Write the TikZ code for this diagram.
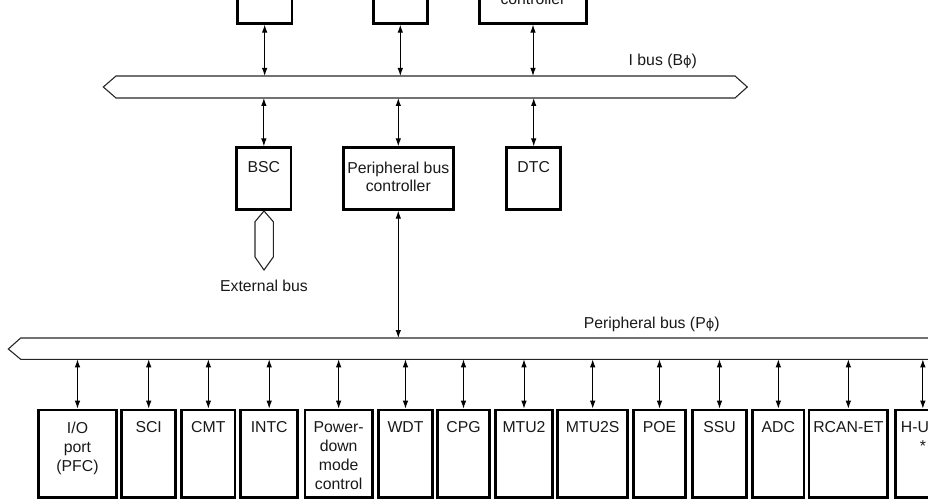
\documentclass[tikz,border=0pt]{standalone}
\usepackage{fontspec}
\setmainfont{Liberation Sans}
\newfontfamily\greekfont{DejaVu Sans}
\usetikzlibrary{arrows.meta,fit}

\newcommand\phisym{{\greekfont\fontsize{13}{13}\selectfont ϕ}}

\tikzset{
  blk/.style={draw=black, line width=2.6pt, inner sep=0pt},
  busline/.style={draw=black!85, line width=1.1pt, line join=miter},
  link/.style={draw=black, line width=1pt,
    {Latex[length=8pt,width=5.5pt]}-{Latex[length=8pt,width=5.5pt]}},
  txt/.style={inner sep=0pt, align=center,
    font=\fontsize{15.8}{19}\selectfont, text=black!90},
}

\begin{document}
\begin{tikzpicture}[x=1pt,y=-1pt]
\useasboundingbox (0,0) rectangle (928,500);

% ---- upper modules on the I bus ----
\node[blk, fit={(237.3,-60) (292,23.3)}] (t1) {};
\node[blk, fit={(373.3,-60) (427.3,23.3)}] (t2) {};
\node[blk, fit={(479.3,-60) (586.7,23.3)}] (t3) {};
\node[txt, anchor=base] (t3txt) at (533,4.5) {controller};

% ---- I bus ----
\draw[busline] (103.3,87) -- (116,76) -- (735,76) -- (747.3,87)
  -- (735,98) -- (116,98) -- cycle;
\coordinate (ibt) at (0,76);
\coordinate (ibb) at (0,98);
\node[txt] (iblabel) at (662.8,61.5) {I bus (B\phisym)};

\draw[link] (t1.south) -- (t1.south |- ibt);
\draw[link] (t2.south) -- (t2.south |- ibt);
\draw[link] (t3.south) -- (t3.south |- ibt);

% ---- BSC, peripheral bus controller, DTC ----
\node[blk, fit={(236.7,147.7) (291,209.3)}] (bsc) {};
\node[blk, fit={(343.3,147.7) (453.3,209.3)}] (pbc) {};
\node[blk, fit={(506.7,147.7) (560.7,209.3)}] (dtc) {};
\node[txt, anchor=north] (bsctxt) at ([yshift=-15pt]bsc.north) {BSC};
\node[txt, anchor=north, font=\fontsize{15.8}{18.5}\selectfont] (pbctxt)
  at ([yshift=-15pt]pbc.north) {Peripheral bus\\controller};
\node[txt, anchor=north] (dtctxt) at ([yshift=-15pt]dtc.north) {DTC};

\draw[link] (bsc.north) -- (bsc.north |- ibb);
\draw[link] (pbc.north) -- (pbc.north |- ibb);
\draw[link] (dtc.north) -- (dtc.north |- ibb);

% external bus stub below the BSC
\draw[busline] (264,211) -- (273.3,221.7) -- (273.3,257) -- (264,270)
  -- (255,257) -- (255,221.7) -- cycle;
\node[txt, anchor=north] (extbus) at (264,280) {External bus};

% ---- peripheral bus ----
\draw[busline] (8.3,349) -- (20.7,338) -- (945,338) -- (945,359.3)
  -- (20.7,359.3) -- cycle;
\coordinate (pbt) at (0,338);
\coordinate (pbb) at (0,359.3);
\node[txt] (pblabel) at (651.7,324.5) {Peripheral bus (P\phisym)};

\draw[link] (pbc.south) -- (pbc.south |- pbt);

% ---- peripheral modules ----
\foreach \l/\r/\n/\t in {
  38.3/116.7/io/{I/O\\port\\(PFC)},
  121.7/175.7/sci/{SCI},
  181.7/235/cmt/{CMT},
  240.7/297.7/intc/{INTC},
  305/372.3/pdm/{Power-\\down\\mode\\control},
  378.3/432.7/wdt/{WDT},
  437.7/489.3/cpg/{CPG},
  495.7/552.3/mtu/{MTU2},
  557.7/627.7/mtus/{MTU2S},
  633.3/685.7/poe/{POE},
  692.3/746.7/ssu/{SSU},
  752.7/804/adc/{ADC},
  809/887.7/rcan/{RCAN-ET},
  895.7/950/hudi/{H-UDI\\*}}{
  \node[blk, fit={(\l,410) (\r,497.5)}] (b\n) {};
  \node[txt, anchor=north] (b\n txt) at ([yshift=-13pt]b\n.north) {\t};
  \draw[link] (b\n.north) -- (b\n.north |- pbb);
}
\end{tikzpicture}
\end{document}
